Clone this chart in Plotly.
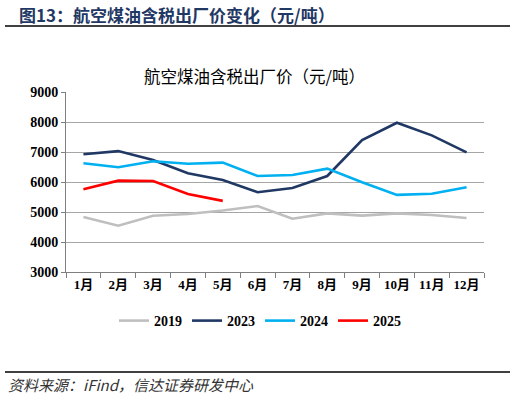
import plotly.graph_objects as go

months = ["1月", "2月", "3月", "4月", "5月", "6月", "7月", "8月", "9月", "10月", "11月", "12月"]
y2019 = [4830, 4545, 4875, 4935, 5050, 5200, 4775, 4955, 4880, 4955, 4900, 4800]
y2023 = [6925, 7030, 6730, 6290, 6065, 5660, 5800, 6200, 7400, 7975, 7555, 6990]
y2024 = [6625, 6490, 6690, 6610, 6645, 6200, 6235, 6445, 5990, 5570, 5610, 5825]
y2025 = [5755, 6045, 6035, 5600, 5370]

series = [("2019", y2019, "#BFBFBF"), ("2023", y2023, "#203864"),
          ("2024", y2024, "#00B0F0"), ("2025", y2025, "#FF0000")]

SERIF = "Liberation Serif, Times New Roman, Noto Sans CJK SC"
CJK = "Noto Sans CJK SC, Liberation Serif"

fig = go.Figure()
for name, vals, col in series:
    fig.add_trace(go.Scatter(x=months[:len(vals)], y=vals, name=name, mode="lines",
                             line=dict(color=col, width=2.6)))

L, T, W, H = 66, 92, 418, 180
def px(x):
    return (x - L) / W
def py(y):
    return (T + H - y) / H

fig.update_layout(
    width=516, height=397,
    margin=dict(l=L, r=516 - L - W, t=T, b=397 - T - H, autoexpand=False),
    plot_bgcolor="white", paper_bgcolor="white",
    showlegend=True,
    legend=dict(orientation="h", x=px(260), y=py(321), xanchor="center", yanchor="middle",
                font=dict(family=SERIF, size=14, color="black", weight="bold"),
                itemwidth=30, tracegroupgap=0),
    xaxis=dict(type="category", tickson="boundaries", ticks="outside", ticklen=5,
               tickcolor="#7f7f7f", showline=True, linecolor="#7f7f7f", linewidth=1,
               showgrid=False, tickangle=0, automargin=False,
               tickfont=dict(family=SERIF, size=13, color="black", weight="bold"),
               range=[-0.5, 11.5]),
    yaxis=dict(range=[3000, 9000], dtick=1000, showgrid=True, gridcolor="#A6A6A6",
               gridwidth=1, showline=True, linecolor="#7f7f7f", zeroline=False,
               ticks="outside", ticklen=4, tickcolor="#7f7f7f", automargin=False,
               tickfont=dict(family=SERIF, size=14, color="black", weight="bold")),
    font=dict(family=SERIF),
)

fig.add_annotation(text="<b>图13：航空煤油含税出厂价变化（元/吨）</b>", xref="paper", yref="paper",
                   x=px(17), y=py(14), xanchor="left", yanchor="middle", showarrow=False,
                   font=dict(family=CJK, size=17, color="#1F3864"))
fig.add_annotation(text="航空煤油含税出厂价（元/吨）", xref="paper", yref="paper",
                   x=px(254), y=py(76), xanchor="center", yanchor="middle", showarrow=False,
                   font=dict(family=CJK, size=16.5, color="black"))
fig.add_annotation(text="<i>资料来源：iFind，信达证券研发中心</i>", xref="paper", yref="paper",
                   x=px(6), y=py(384), xanchor="left", yanchor="middle", showarrow=False,
                   font=dict(family=CJK, size=15, color="#333333"))

fig.add_shape(type="line", xref="paper", yref="paper", x0=px(5), x1=px(510), y0=py(26), y1=py(26),
              line=dict(color="#404040", width=2))
fig.add_shape(type="line", xref="paper", yref="paper", x0=px(5), x1=px(510), y0=py(372), y1=py(372),
              line=dict(color="#404040", width=2))

fig.write_html("out.html", config={"displayModeBar": False},
               post_script="document.body.style.margin='0';document.body.style.overflow='hidden';")
